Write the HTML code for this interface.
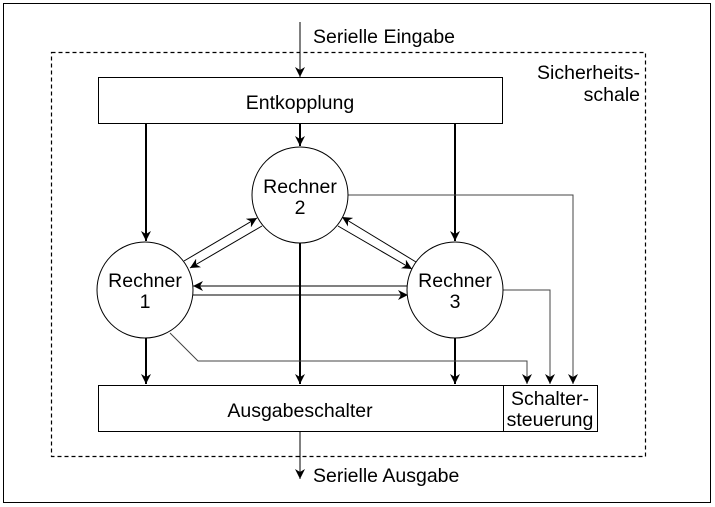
<!DOCTYPE html>
<html><head><meta charset="utf-8"><style>
html,body{margin:0;padding:0;background:#fff}
svg{display:block}
text{font-family:"Liberation Sans",Arial,sans-serif;font-size:19.5px;fill:#000}
</style></head><body>
<svg width="715" height="507" viewBox="0 0 715 507" xmlns="http://www.w3.org/2000/svg">
<defs>
<marker id="a" viewBox="0 0 10 10" refX="10" refY="5" markerWidth="10" markerHeight="10" markerUnits="userSpaceOnUse" orient="auto"><path d="M0,0 L10,5 L0,10 L3,5 z" fill="#000"/></marker>
</defs>
<rect x="3.5" y="3.5" width="707" height="499" fill="none" stroke="#000" stroke-width="1"/>
<rect x="51.5" y="52.5" width="594" height="404" fill="none" stroke="#000" stroke-width="1.2" stroke-dasharray="4,3"/>
<text x="313" y="43">Serielle Eingabe</text>
<text x="640" y="79" text-anchor="end">Sicherheits-</text>
<text x="640" y="101" text-anchor="end">schale</text>
<line x1="300" y1="22" x2="300" y2="77" stroke="#000" marker-end="url(#a)"/>
<rect x="98.5" y="77.5" width="404" height="46" fill="#fff" stroke="#000"/>
<text x="300" y="109" text-anchor="middle">Entkopplung</text>
<g stroke="#000" stroke-width="2" fill="none">
<line x1="146" y1="124" x2="146" y2="241" marker-end="url(#a)"/>
<line x1="300" y1="124" x2="300" y2="146" marker-end="url(#a)"/>
<line x1="455" y1="124" x2="455" y2="241" marker-end="url(#a)"/>
<line x1="146" y1="338" x2="146" y2="384" marker-end="url(#a)"/>
<line x1="300" y1="243" x2="300" y2="384" marker-end="url(#a)"/>
<line x1="455" y1="338" x2="455" y2="384" marker-end="url(#a)"/>
</g>
<g stroke="#000" stroke-width="1" fill="none">
<line x1="184" y1="261" x2="257" y2="218" marker-end="url(#a)"/>
<line x1="262" y1="226" x2="190" y2="268" marker-end="url(#a)"/>
<line x1="416" y1="262" x2="342" y2="217" marker-end="url(#a)"/>
<line x1="338" y1="226" x2="412" y2="269" marker-end="url(#a)"/>
<line x1="408" y1="286" x2="193" y2="286" marker-end="url(#a)"/>
<line x1="193" y1="295" x2="408" y2="295" marker-end="url(#a)"/>
</g>
<g stroke="#444" stroke-width="1" fill="none">
<polyline points="348,195 573,195 573,384" marker-end="url(#a)"/>
<polyline points="503,290 550,290 550,384" marker-end="url(#a)"/>
<polyline points="170,333 198,361 527,361 527,384" marker-end="url(#a)"/>
</g>
<g fill="#fff" stroke="#000" stroke-width="1">
<circle cx="145" cy="290" r="48"/>
<circle cx="300" cy="195" r="48"/>
<circle cx="455" cy="290" r="48"/>
</g>
<text x="145" y="287" text-anchor="middle">Rechner</text>
<text x="145" y="308" text-anchor="middle">1</text>
<text x="300" y="193" text-anchor="middle">Rechner</text>
<text x="300" y="214" text-anchor="middle">2</text>
<text x="455" y="287" text-anchor="middle">Rechner</text>
<text x="455" y="308" text-anchor="middle">3</text>
<rect x="98.5" y="385.5" width="499" height="46" fill="#fff" stroke="#000"/>
<line x1="503.5" y1="385" x2="503.5" y2="432" stroke="#000"/>
<text x="300" y="417" text-anchor="middle">Ausgabeschalter</text>
<text x="550" y="405" text-anchor="middle">Schalter-</text>
<text x="550" y="426" text-anchor="middle">steuerung</text>
<line x1="300" y1="432" x2="300" y2="479" stroke="#000" marker-end="url(#a)"/>
<text x="313" y="482">Serielle Ausgabe</text>
</svg>
</body></html>
